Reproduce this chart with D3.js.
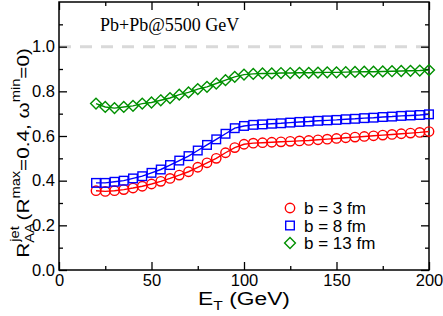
<!DOCTYPE html>
<html>
<head>
<meta charset="utf-8">
<style>
  body { margin: 0; background: #fff; }
</style>
</head>
<body>
<div id="chart"></div>
<script src="https://d3js.org/d3.v7.min.js"></script>
<script>
// E_T values (GeV)
const et = d3.range(20, 201, 5);

// R_AA
const b3 = [0.355, 0.352, 0.355, 0.36, 0.367, 0.375, 0.385, 0.397, 0.41, 0.425, 0.44, 0.46, 0.48, 0.50, 0.525, 0.548, 0.563,
  0.568, 0.57, 0.572, 0.574, 0.576, 0.578, 0.58, 0.583, 0.586, 0.589, 0.592, 0.595, 0.598, 0.601, 0.604, 0.607, 0.61, 0.613, 0.616, 0.62];
const b8 = [0.39, 0.39, 0.395, 0.40, 0.41, 0.42, 0.435, 0.45, 0.47, 0.49, 0.51, 0.535, 0.56, 0.585, 0.61, 0.635, 0.645,
  0.65, 0.652, 0.655, 0.657, 0.66, 0.663, 0.665, 0.668, 0.67, 0.672, 0.675, 0.677, 0.68, 0.682, 0.685, 0.687, 0.69, 0.692, 0.694, 0.697];
const b13 = [0.745, 0.73, 0.725, 0.73, 0.735, 0.745, 0.75, 0.76, 0.77, 0.785, 0.795, 0.81, 0.82, 0.835, 0.85, 0.865, 0.875,
  0.878, 0.88, 0.88, 0.882, 0.882, 0.883, 0.883, 0.884, 0.885, 0.885, 0.886, 0.887, 0.888, 0.888, 0.889, 0.89, 0.891, 0.892, 0.893, 0.895];

const xTicks = [0, 50, 100, 150, 200];
const yTicks = [0, 0.2, 0.4, 0.6, 0.8, 1.0];
const labels = ["b = 3 fm", "b = 8 fm", "b = 13 fm"];

const width = 443, height = 316;
const margin = {top: 2, right: 14, bottom: 46, left: 59};
const sans = "Liberation Sans, Arial, sans-serif";

const svg = d3.select("#chart").append("svg")
  .attr("width", width).attr("height", height)
  .attr("font-family", sans);

const x = d3.scaleLinear().domain([0, 200]).range([margin.left, width - margin.right]);
const y = d3.scaleLinear().domain([0, 1.2]).range([height - margin.bottom, margin.top]);

// reference line at 1
svg.append("line")
  .attr("x1", x(0)).attr("x2", x(200))
  .attr("y1", y(1)).attr("y2", y(1))
  .attr("stroke", "#d9d9d9").attr("stroke-width", 3)
  .attr("stroke-dasharray", "12,9");

// axes, ticks inward, on all four sides
const xMinor = d3.range(25, 200, 50);
const yMinor = [0.1, 0.3, 0.5, 0.7, 0.9, 1.1];

const gx = svg.append("g").attr("transform", `translate(0,${y(0)})`)
  .call(d3.axisBottom(x).tickValues(xTicks).tickSize(-8).tickPadding(4));
gx.append("g").call(d3.axisBottom(x).tickValues(xMinor).tickSize(-4).tickFormat(""));
const gxt = svg.append("g").attr("transform", `translate(0,${y(1.2)})`)
  .call(d3.axisTop(x).tickValues(xTicks).tickSize(-8).tickFormat(""));
gxt.append("g").call(d3.axisTop(x).tickValues(xMinor).tickSize(-4).tickFormat(""));

const gy = svg.append("g").attr("transform", `translate(${x(0)},0)`)
  .call(d3.axisLeft(y).tickValues(yTicks).tickSize(-8).tickPadding(4).tickFormat(d3.format(".1f")));
gy.append("g").call(d3.axisLeft(y).tickValues(yMinor).tickSize(-4).tickFormat(""));
const gyr = svg.append("g").attr("transform", `translate(${x(200)},0)`)
  .call(d3.axisRight(y).tickValues(yTicks).tickSize(-8).tickFormat(""));
gyr.append("g").call(d3.axisRight(y).tickValues(yMinor).tickSize(-4).tickFormat(""));

svg.selectAll(".domain").remove();
svg.selectAll(".tick line").attr("stroke", "#000").attr("stroke-width", 1.3);
svg.selectAll("g").attr("font-family", null);
svg.selectAll(".tick text").attr("font-size", 16.5).attr("fill", "#000");

// frame
svg.append("rect")
  .attr("x", x(0)).attr("y", y(1.2))
  .attr("width", x(200) - x(0)).attr("height", y(0) - y(1.2))
  .attr("fill", "none").attr("stroke", "#000").attr("stroke-width", 1.5);

// series
const series = [
  {vals: b3, color: "#ff0000", shape: "circle"},
  {vals: b8, color: "#0000ff", shape: "square"},
  {vals: b13, color: "#009000", shape: "diamond"}
];

function marker(g, shape, color) {
  if (shape === "circle") {
    g.append("circle").attr("r", 4.7);
  } else if (shape === "square") {
    g.append("rect").attr("x", -4.3).attr("y", -4.3).attr("width", 8.6).attr("height", 8.6);
  } else {
    g.append("path").attr("d", "M0,-5.4L5.4,0L0,5.4L-5.4,0Z");
  }
  g.selectAll("*").attr("fill", "none").attr("stroke", color).attr("stroke-width", 1.4);
}

const line = d3.line().x((d, i) => x(et[i])).y(d => y(d));

series.forEach(s => {
  svg.append("path").datum(s.vals)
    .attr("d", line).attr("fill", "none")
    .attr("stroke", s.color).attr("stroke-width", 1.4);
  svg.append("g").selectAll("g").data(s.vals).enter().append("g")
    .attr("transform", (d, i) => `translate(${x(et[i])},${y(d)})`)
    .each(function() { marker(d3.select(this), s.shape, s.color); });
});

// legend
const leg = svg.append("g");
labels.forEach((t, i) => {
  const ly = 208 + i * 17.5;
  const m = leg.append("g").attr("transform", `translate(290,${ly})`);
  marker(m, series[i].shape, series[i].color);
  leg.append("text").attr("x", 304).attr("y", ly + 6)
    .attr("font-size", 17).text(t);
});

// annotation
svg.append("text").attr("x", 100).attr("y", 31)
  .attr("font-family", "Liberation Serif, Times New Roman, serif")
  .attr("font-size", 18).text("Pb+Pb@5500 GeV");

// x label
const xl = svg.append("text")
  .attr("transform", `translate(${x(100)},305) scale(1.2,1)`)
  .attr("text-anchor", "middle").attr("font-size", 19);
xl.append("tspan").text("E");
xl.append("tspan").attr("font-size", 13).attr("dy", 5).text("T");
xl.append("tspan").attr("dy", -5).text(" (GeV)");

// y label
const yl = svg.append("text")
  .attr("transform", `translate(29,153) rotate(-90) scale(1.22,1)`)
  .attr("text-anchor", "middle").attr("font-size", 17);
yl.append("tspan").text("R");
yl.append("tspan").attr("font-size", 12).attr("dy", 5).text("AA");
yl.append("tspan").attr("font-size", 12).attr("dy", -15).attr("dx", -15).text("jet");
yl.append("tspan").attr("dy", 10).text(" (R");
yl.append("tspan").attr("font-size", 12).attr("dy", -9).text("max");
yl.append("tspan").attr("dy", 9).text("=0.4, ω");
yl.append("tspan").attr("font-size", 12).attr("dy", -9).text("min");
yl.append("tspan").attr("dy", 9).text("=0)");
</script>
</body>
</html>
